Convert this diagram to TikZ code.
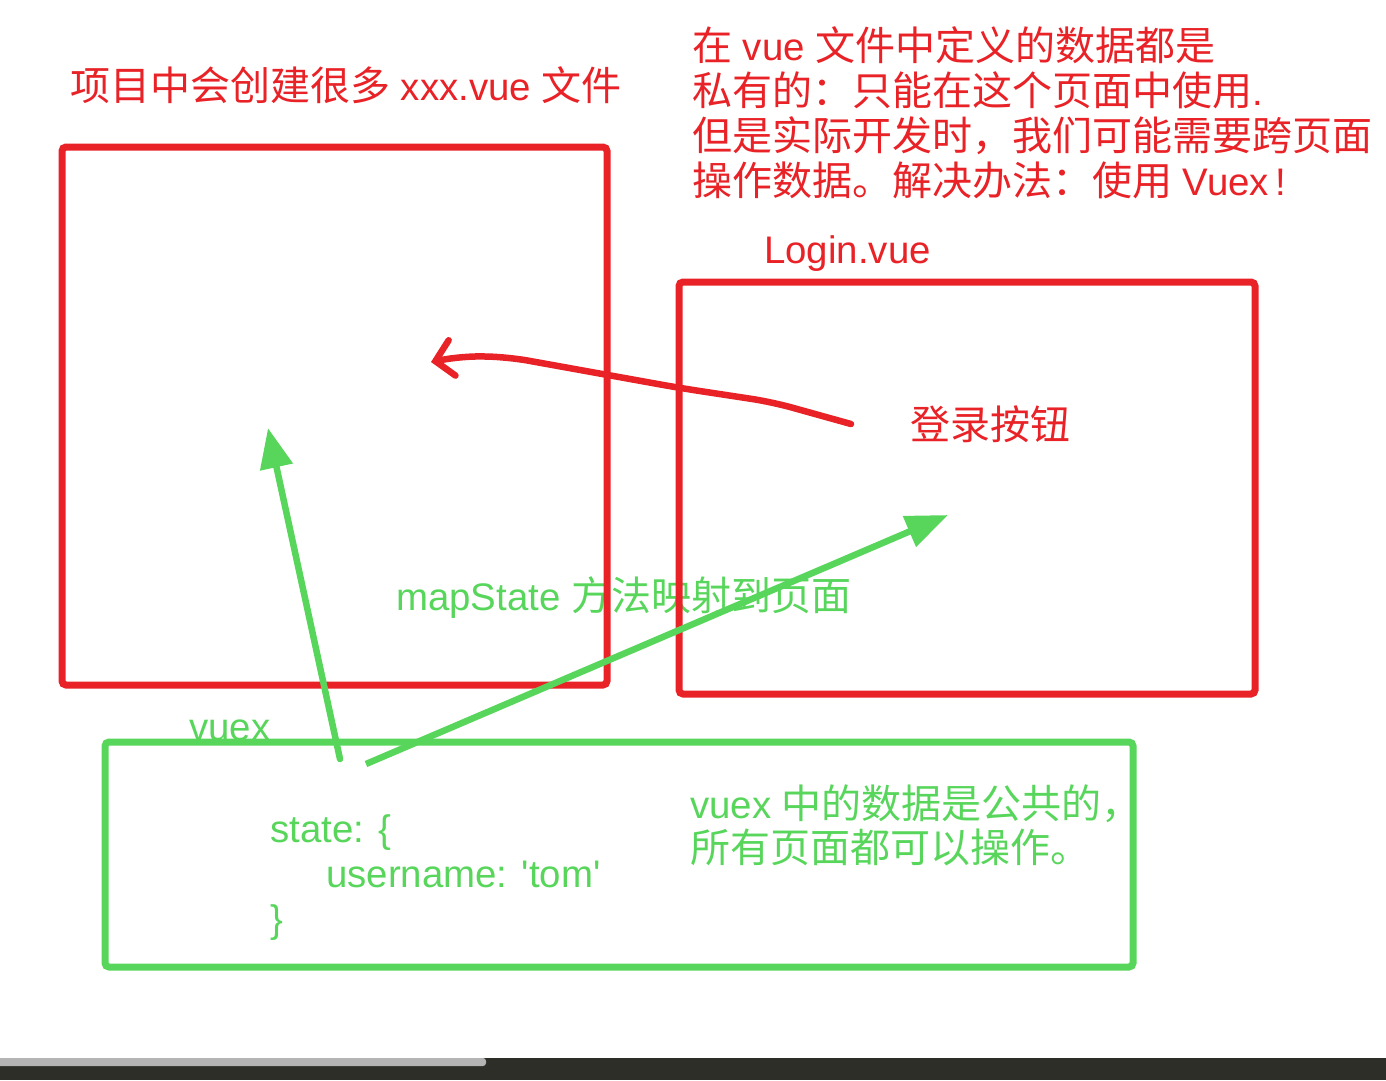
\documentclass[tikz,border=0pt]{standalone}
\usepackage{fontspec}
\setmainfont{Liberation Sans}[Scale=0.96]
\newfontfamily\cjk{Noto Sans CJK SC}
\usetikzlibrary{arrows.meta}
\definecolor{penred}{RGB}{232,34,38}
\definecolor{pengreen}{RGB}{88,214,92}
\definecolor{bardark}{RGB}{45,46,40}
\definecolor{bargray}{RGB}{180,180,180}
\newcommand{\zh}[1]{{\cjk #1}}
\tikzset{
  pagebox/.style={draw, line width=7pt, rounded corners=4pt, inner sep=0pt},
  handtext/.style={inner sep=0pt, anchor=base west, align=left, font=\fontsize{40}{45}\selectfont},
  pen/.style={line width=6.5pt, line cap=round, line join=round}
}
\begin{document}
\begin{tikzpicture}[x=1pt,y=-1pt]
                \useasboundingbox (0,0) rectangle (1386,1080);
                % texts (under the strokes); base = last line
                \node[handtext, text=penred] (title) at (70,100) {\zh{项目中会创建很多} xxx.vue \zh{文件}};
                \node[handtext, text=penred] (note) at (692,195) {\zh{在} vue \zh{文件中定义的数据都是}\\
                    \zh{私有的：只能在这个页面中使用}.\\
                    \zh{但是实际开发时，我们可能需要跨页面}\\
                    \zh{操作数据。解决办法：使用} Vuex\,!};
                \node[handtext, text=penred] (login) at (764,263) {Login.vue};
                \node[handtext, text=penred] (btn) at (910,439) {\zh{登录按钮}};
                \node[handtext, text=pengreen] (mapstate) at (396,610) {mapState \zh{方法映射到页面}};
                \node[handtext, text=pengreen] (vuexlabel) at (189,740) {vuex};
                \node[handtext, text=pengreen] (state) at (270,932) {state: \{\\
                    \hspace*{56pt}username: \textquotesingle tom\textquotesingle\\
                    \}};
                \node[handtext, text=pengreen, font=\fontsize{40}{44}\selectfont] (shared) at (690,862) {vuex \zh{中的数据是公共的，}\\
                    \zh{所有页面都可以操作。}};

                % pages and store
                \node[pagebox, penred, minimum width=545, minimum height=538] (vuepage) at (334.5,416) {};
                \node[pagebox, penred, minimum width=576, minimum height=412] (loginpage) at (967,488) {};
                \node[pagebox, pengreen, minimum width=1028, minimum height=225] (store) at (619,854.5) {};

                % arrows
                \coordinate (btnfrom) at (851,424);
                \coordinate (vueto) at (431,362);
                \coordinate (statefrom) at (340,759);
                \coordinate (vueup) at (268,428);
                \coordinate (mapfrom) at (366,764);
                \coordinate (loginto) at (948,515);
                \draw[pen, penred, rounded corners=20pt, -{Straight Barb[length=17pt, width=36pt, line cap=round]}]
                    (btnfrom) -- (772,402) -- (680,388) -- (508,357) -- (462,356) -- (vueto);
                \draw[pen, pengreen, -{Triangle[length=40pt, width=32pt]}] (statefrom) -- (vueup);
                \draw[pen, pengreen, line cap=butt, -{Triangle[length=42pt, width=32pt]}] (mapfrom) -- (loginto);

                % window bar
                \fill[bardark] (0,1058) rectangle (1386,1080);
                \fill[bargray, rounded corners=3pt] (-5,1058) rectangle (486,1066);
            \end{tikzpicture}
\end{document}
